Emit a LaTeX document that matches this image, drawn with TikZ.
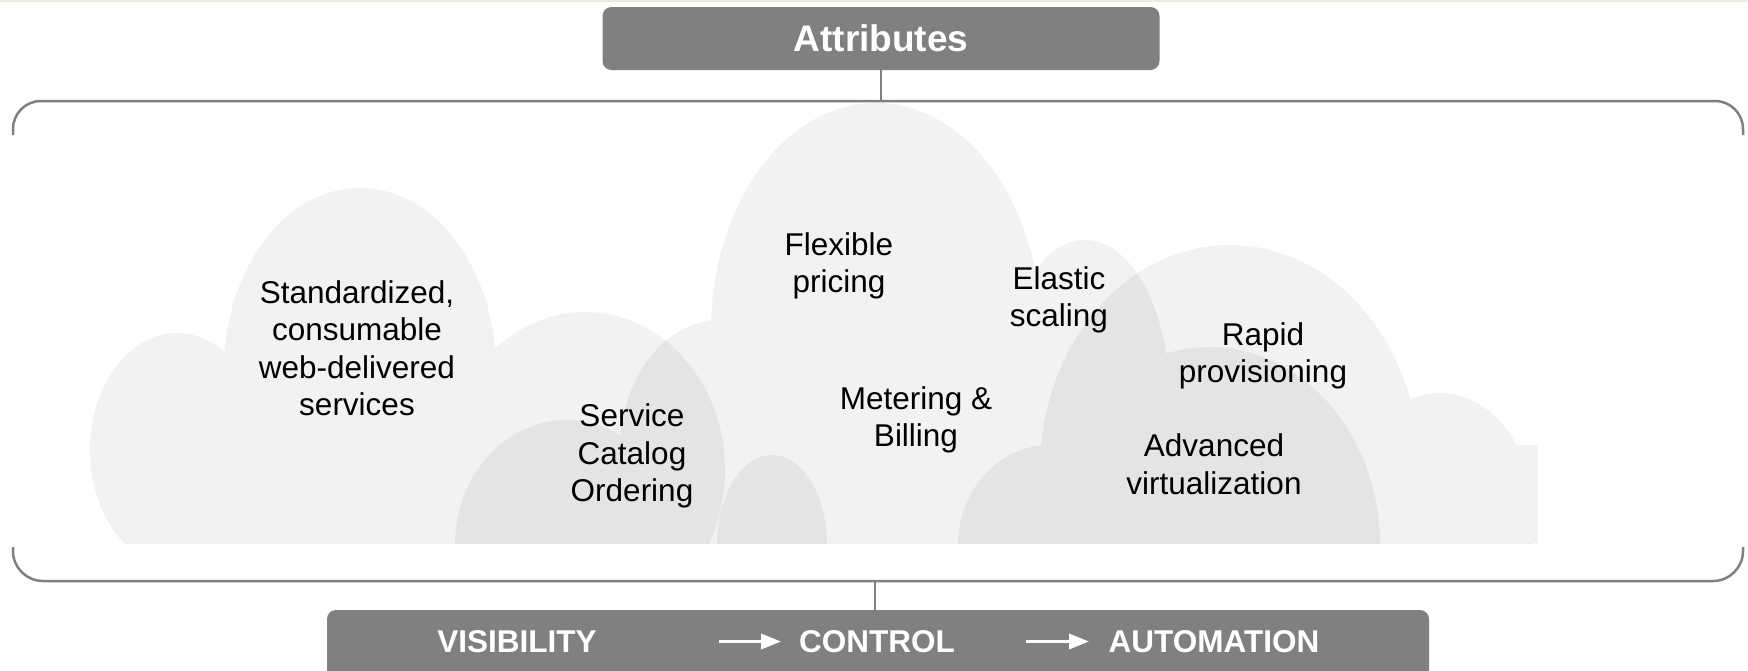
\documentclass[tikz,border=0pt]{standalone}
\usepackage{fontspec}
\setmainfont{Liberation Sans}
\usetikzlibrary{arrows.meta}
\definecolor{cloudlight}{HTML}{F2F2F2}
\definecolor{clouddark}{HTML}{E4E4E4}
\definecolor{boxgray}{HTML}{808080}
\definecolor{linegray}{HTML}{808080}
\definecolor{creamstrip}{HTML}{EFEBDF}
\begin{document}
\begin{tikzpicture}[x=1pt,y=-1pt,
  cloudtext/.style={align=center, font=\fontsize{31.5}{37.5}\selectfont, text=black, inner sep=0pt},
  graybox/.style={fill=boxgray, draw=none, rounded corners=9pt, inner sep=0pt},
  boxtext/.style={text=white, font=\bfseries\fontsize{31.5}{37}\selectfont, inner sep=0pt},
  bracketline/.style={draw=linegray, line width=2.5pt},
  conn/.style={draw=linegray, line width=1.5pt},
  flowarrow/.style={draw=white, line width=3.5pt, -{Triangle[length=20pt,width=15pt]}}]

\useasboundingbox (0,0) rectangle (1748,670);
\fill[white] (0,0) rectangle (1748,670);
\fill[creamstrip] (0,0) rectangle (1748,2);

% ---------------- clouds ----------------
\begin{scope}
  \clip (0,0) rectangle (1538,543);
  % cloud A (left)
  \fill[cloudlight]
    (177,450) ellipse [x radius=87, y radius=117]
    (360,370) ellipse [x radius=136, y radius=182]
    (585,470) ellipse [x radius=140, y radius=158]
    (330,543) ellipse [x radius=200, y radius=110];
  % cloud B (middle)
  \fill[cloudlight]
    (720,450) ellipse [x radius=100, y radius=130]
    (876,330) ellipse [x radius=165, y radius=227]
    (1085,400) ellipse [x radius=85, y radius=160]
    (880,543) ellipse [x radius=230, y radius=120];
  % cloud C (right)
  \fill[cloudlight]
    (1230,470) ellipse [x radius=190, y radius=225]
    (1440,520) ellipse [x radius=95, y radius=127];
  \fill[cloudlight] (1500,445) rectangle (1538,543);
  % overlap A / B
  \begin{scope}
    \clip (585,470) ellipse [x radius=140, y radius=158];
    \fill[clouddark]
      (720,450) ellipse [x radius=100, y radius=130]
      (876,330) ellipse [x radius=165, y radius=227]
      (880,543) ellipse [x radius=230, y radius=120];
  \end{scope}
  % overlap B / C
  \begin{scope}
    \clip (1230,470) ellipse [x radius=190, y radius=225];
    \fill[clouddark]
      (876,330) ellipse [x radius=165, y radius=227]
      (1085,400) ellipse [x radius=85, y radius=160]
      (880,543) ellipse [x radius=230, y radius=120];
  \end{scope}
  % cloud D (lower middle-left)
  \fill[clouddark]
    (567,545) ellipse [x radius=112, y radius=125]
    (772,545) ellipse [x radius=55, y radius=90];
  % cloud E (lower right)
  \fill[clouddark]
    (1050,545) ellipse [x radius=92, y radius=100]
    (1210,545) ellipse [x radius=170, y radius=198];
\end{scope}

% ---------------- cloud labels ----------------
\node[cloudtext] (std) at (357,348) {Standardized,\\consumable\\web-delivered\\services};
\node[cloudtext] (svc) at (632,456) {Service\\Catalog\\Ordering};
\node[cloudtext] (flex) at (839,266) {Flexible\\pricing};
\node[cloudtext] (elas) at (1059,300) {Elastic\\scaling};
\node[cloudtext] (meter) at (916,420) {Metering \&\\Billing};
\node[cloudtext] (rapid) at (1263,356) {Rapid\\provisioning};
\node[cloudtext] (adv) at (1214,464) {Advanced\\virtualization};

% ---------------- bracket ----------------
\draw[bracketline, rounded corners=28pt] (13,135) -- (13,101) -- (1743,101) -- (1743,135);
\draw[bracketline, rounded corners=30pt] (13,547) -- (13,581) -- (1743,581) -- (1743,547);
\coordinate (brtop) at (881,101);
\coordinate (brbot) at (875,581);

% ---------------- boxes ----------------
\node[graybox, minimum width=557pt, minimum height=63pt] (attr) at (881,38.5) {};
\node[boxtext, font=\bfseries\fontsize{37}{40}\selectfont] (attrtext) at (attr.center) {Attributes};
\node[graybox, minimum width=1102pt, minimum height=72pt] (bar) at (878,646) {};

\draw[conn] (attr.south) -- (brtop);
\draw[conn] (brbot) -- (brbot |- bar.north);

\node[boxtext] (vis) at (517,641.5) {VISIBILITY};
\node[boxtext] (ctl) at (877,641.5) {CONTROL};
\node[boxtext] (auto) at (1214,641.5) {AUTOMATION};
\coordinate (a1s) at (719,641.5);
\coordinate (a1e) at (781,641.5);
\coordinate (a2s) at (1026,641.5);
\coordinate (a2e) at (1089,641.5);
\draw[flowarrow] (a1s) -- (a1e);
\draw[flowarrow] (a2s) -- (a2e);
\end{tikzpicture}
\end{document}
